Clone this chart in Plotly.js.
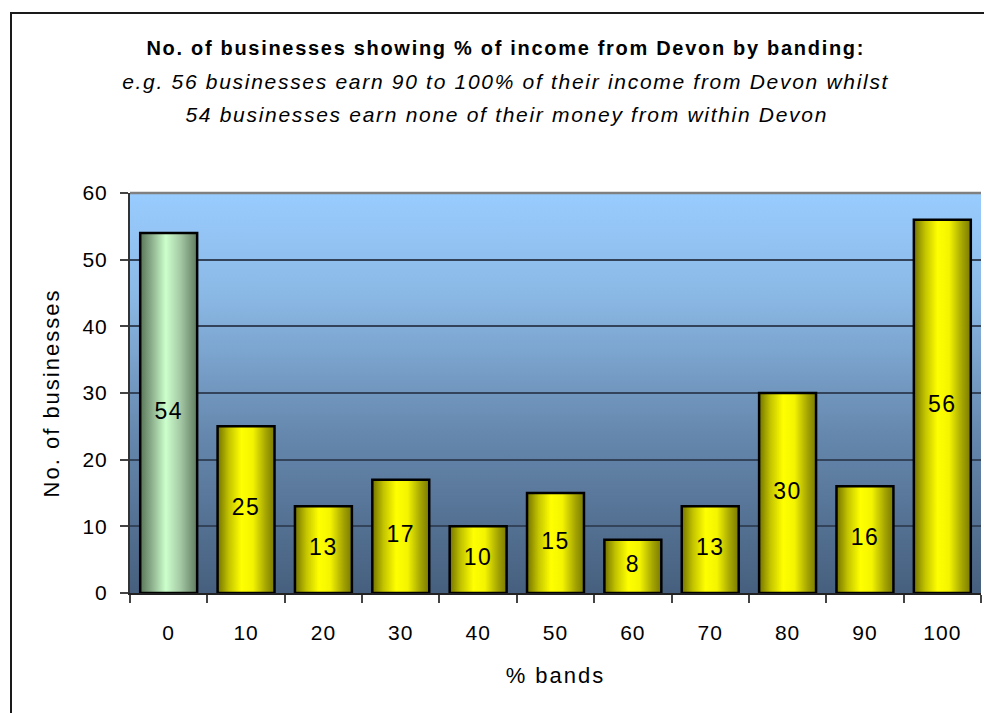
<!DOCTYPE html>
<html>
<head>
<meta charset="utf-8">
<script src="https://cdn.plot.ly/plotly-3.0.1.min.js"></script>
<style>
  html, body { margin: 0; padding: 0; background: #ffffff; overflow: hidden; }
  #chart { position: absolute; left: 0; top: 0; width: 984px; height: 713px; }
  #frame { position: absolute; left: 10px; top: 12px; width: 1000px; height: 800px;
           border-left: 2px solid #1a1a1a; border-top: 2px solid #1a1a1a; pointer-events: none; }
  #chart g.xtick text, #chart g.ytick text { letter-spacing: 1px; }
  #chart text.xtitle, #chart text.ytitle { letter-spacing: 2px; }
  #chart text.gtitle, #chart g.annotation text { letter-spacing: 1.7px; }
  #chart g.textpoint text { letter-spacing: 1.5px; }
</style>
</head>
<body>
<div id="chart"></div>
<div id="frame"></div>
<script>
// ---- data ----
const categories = ['0', '10', '20', '30', '40', '50', '60', '70', '80', '90', '100'];
const counts = [54, 25, 13, 17, 10, 15, 8, 13, 30, 16, 56];
const titleLine1 = 'No. of businesses showing % of income from Devon by banding:';
const titleLine2 = 'e.g. 56 businesses earn 90 to 100% of their income from Devon whilst';
const titleLine3 = '54 businesses earn none of their money from within Devon';
const xTitle = '% bands';
const yTitle = 'No. of businesses';
const yTicks = [0, 10, 20, 30, 40, 50, 60];

// ---- styling ----
const FONT = 'Arial, "Liberation Sans", sans-serif';
const barWidth = 0.736;
const half = barWidth / 2;
const greenScale = [[0, '#587558'], [0.2, '#8cae8c'], [0.45, '#ccffcc'], [0.7, '#a6caa6'], [1, '#5f7b5f']];
const yellowScale = [[0, '#737300'], [0.2, '#c4c400'], [0.42, '#ffff00'], [0.62, '#f4f400'], [0.85, '#a4a400'], [1, '#7a7a00']];

const idx = categories.map((c, i) => i);
const traces = [];
categories.forEach((cat, i) => {
  const v = counts[i];
  traces.push({
    type: 'scatter',
    mode: 'lines',
    name: cat,
    x: [i - half, i - half, i + half, i + half, i - half],
    y: [0, v, v, 0, 0],
    fill: 'toself',
    fillgradient: { type: 'horizontal', colorscale: i === 0 ? greenScale : yellowScale },
    line: { color: '#000000', width: 2.5 },
    showlegend: false,
    hoverinfo: 'skip'
  });
});
traces.push({
  type: 'scatter',
  mode: 'text',
  x: idx,
  y: counts.map(v => v / 2),
  text: counts.map(String),
  textposition: 'middle center',
  textfont: { family: FONT, size: 23, color: '#000000' },
  showlegend: false,
  hovertext: categories.map((c, i) => c + '%: ' + counts[i]),
  hoverinfo: 'text'
});

const gradSvg = "<svg xmlns='http://www.w3.org/2000/svg' width='10' height='100' preserveAspectRatio='none'>" +
  "<defs><linearGradient id='g' x1='0' y1='0' x2='0' y2='1'>" +
  "<stop offset='0' stop-color='#99ccff'/><stop offset='0.25' stop-color='#8bb9e6'/>" +
  "<stop offset='0.6' stop-color='#6688ae'/><stop offset='1' stop-color='#465f7e'/>" +
  "</linearGradient></defs><rect width='10' height='100' fill='url(#g)'/></svg>";

const layout = {
  width: 984,
  height: 713,
  margin: { l: 130, r: 3, t: 193, b: 120 },
  paper_bgcolor: '#ffffff',
  plot_bgcolor: 'rgba(0,0,0,0)',
  font: { family: FONT, color: '#000000' },
  showlegend: false,
  title: {
    text: '<b>' + titleLine1 + '</b>',
    font: { family: FONT, size: 20, color: '#000000' },
    x: 0.514, xref: 'container', xanchor: 'center',
    y: 1 - 48 / 713, yref: 'container', yanchor: 'middle'
  },
  annotations: [
    { text: '<i>' + titleLine2 + '</i>', xref: 'paper', yref: 'paper', x: 0.442, y: 1.2775,
      xanchor: 'center', yanchor: 'middle', showarrow: false, font: { family: FONT, size: 21, color: '#000000' } },
    { text: '<i>' + titleLine3 + '</i>', xref: 'paper', yref: 'paper', x: 0.442, y: 1.1975,
      xanchor: 'center', yanchor: 'middle', showarrow: false, font: { family: FONT, size: 21, color: '#000000' } }
  ],
  images: [{
    source: 'data:image/svg+xml;charset=utf-8,' + encodeURIComponent(gradSvg),
    xref: 'paper', yref: 'paper', x: 0, y: 1, sizex: 1, sizey: 1,
    xanchor: 'left', yanchor: 'top', sizing: 'stretch', layer: 'below'
  }],
  shapes: [{
    type: 'line', xref: 'paper', yref: 'paper', x0: 0, x1: 1, y0: 1, y1: 1,
    line: { color: '#808080', width: 2.5 }
  }],
  xaxis: {
    range: [-0.5, categories.length - 0.5],
    tickmode: 'array',
    tickvals: idx,
    ticktext: categories,
    ticks: '',
    ticklabelstandoff: 20,
    tickfont: { family: FONT, size: 21, color: '#000000' },
    minor: {
      tickmode: 'array',
      tickvals: categories.map((c, i) => i - 0.5).concat([categories.length - 0.5]),
      ticks: 'outside', ticklen: 8, tickwidth: 1.5, tickcolor: '#444444', showgrid: false
    },
    showgrid: false,
    zeroline: false,
    showline: true,
    linecolor: '#222222',
    linewidth: 2,
    fixedrange: true,
    title: { text: xTitle, font: { family: FONT, size: 22, color: '#000000' }, standoff: 24 }
  },
  yaxis: {
    range: [0, 60],
    tickmode: 'array',
    tickvals: yTicks,
    ticks: 'outside',
    ticklen: 8,
    tickwidth: 1.5,
    tickcolor: '#444444',
    ticklabelstandoff: 8,
    tickfont: { family: FONT, size: 21, color: '#000000' },
    showgrid: true,
    gridcolor: '#33445a',
    gridwidth: 1.5,
    zeroline: false,
    showline: true,
    linecolor: '#333333',
    linewidth: 2,
    fixedrange: true,
    title: { text: yTitle, font: { family: FONT, size: 22, color: '#000000' }, standoff: 19 }
  }
};

Plotly.newPlot('chart', traces, layout, { displayModeBar: false, staticPlot: false });
</script>
</body>
</html>
